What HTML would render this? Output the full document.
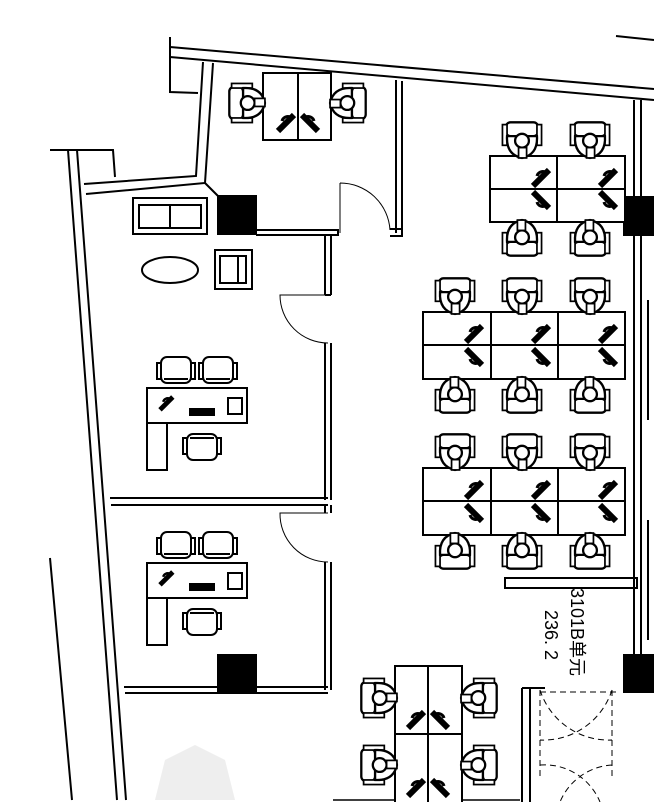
<!DOCTYPE html>
<html><head><meta charset="utf-8"><style>html,body{margin:0;padding:0;background:#fff}svg{display:block}</style></head>
<body>
<svg width="654" height="802" viewBox="0 0 654 802" xmlns="http://www.w3.org/2000/svg" fill="none" stroke="#000" stroke-width="2">
<defs>
<g id="w"><g transform="scale(1.15)">
<rect x="-14" y="-18" width="28" height="12" rx="4" fill="#fff"/>
<rect x="-17" y="-16" width="4" height="18" fill="#fff" stroke-width="1.5"/>
<rect x="13" y="-16" width="4" height="18" fill="#fff" stroke-width="1.5"/>
<path d="M-13,-6 Q-14,10 0,13 Q14,10 13,-6 Z" fill="#fff"/>
<circle cx="0" cy="-2" r="6" fill="#fff"/>
<rect x="-3" y="4" width="7" height="9" fill="#fff" stroke-width="1.5"/>
</g></g>
<g id="m"><path d="M-10,6 L6,-10" stroke-width="6"/><path d="M-6,-4 a6,6 0 0 1 8,-4" stroke-width="3"/></g>
<g id="c">
<rect x="-15" y="-12" width="30" height="26" rx="6" fill="#fff"/>
<rect x="-19" y="-6" width="4" height="16" fill="#fff"/>
<rect x="15" y="-6" width="4" height="16" fill="#fff"/>
<path d="M-12,10 H12"/>
</g>
</defs>

<path d="M170,37 V60 M170,47 L654,89 M170,57 L654,100 M616,36 L654,40"/>
<path d="M170,57 V92 L198,93"/>
<path d="M203,62 L196,176 L84,184 M213,63 L205,183 L86,194"/>
<path d="M50,150 H113 L115,177 M68,150 L117,800 M77,150 L126,800 M50,558 L72,800"/>
<path d="M205,183 L218,196"/>
<rect x="218" y="196" width="38" height="38" fill="#000"/>
<rect x="624" y="197" width="30" height="38" fill="#000"/>
<rect x="218" y="655" width="38" height="37" fill="#000"/>
<rect x="624" y="655" width="30" height="37" fill="#000"/>
<path d="M256,230 H338 M256,235 H338 M338,229 V236"/>
<path d="M396,80 V233 M402,81 V233 M390,229 H402 V236 H390"/>
<path d="M340,183 V233 M340,183 A50,50 0 0 1 390,230" stroke-width="1"/>
<path d="M325,235 V295 M331,235 V295 M325,295 H331 M325,343 V500 M331,343 V500 M325,562 V690 M331,562 V690"/>
<path d="M328,295 H280 A48,48 0 0 0 328,343" stroke-width="1"/>
<path d="M328,513 H280 A48,48 0 0 0 328,562" stroke-width="1"/>
<path d="M110,498 H328 M111,505 H328 M325,505 V513 M331,505 V513"/>
<path d="M124,687 H328 M125,693 H328"/>
<path d="M634,100 V690 M641,100 V690 M648,300 V420 M648,520 V640"/>
<rect x="505" y="578" width="132" height="10"/>
<path d="M522,688 V802 M530,688 V802 M522,688 H545"/>
<path d="M540,690 V780 M612,690 V780 M540,692 H620 M540,690 A72,72 0 0 0 612,740 M612,690 A72,72 0 0 1 540,740 M540,765 A60,60 0 0 1 600,802 M612,765 A60,60 0 0 0 560,802" stroke-width="1" stroke-dasharray="6,4"/>
<path d="M333,800 H520" stroke-width="1.5"/>

<text transform="translate(571,588) rotate(90)" font-family="Liberation Sans, 'Noto Sans CJK SC', sans-serif" font-size="18" fill="#000" stroke="none">3101B单元</text>
<text transform="translate(545,610) rotate(90)" font-family="Liberation Sans, 'Noto Sans CJK SC', sans-serif" font-size="18" fill="#000" stroke="none">236. 2</text>

<rect x="263" y="73" width="68" height="67" fill="#fff"/>
<path d="M298,73 V140"/>
<use href="#m" transform="translate(288,125)"/>
<use href="#m" transform="translate(308,125) scale(-1,1)"/>
<use href="#w" transform="translate(250,103) rotate(-90)"/>
<use href="#w" transform="translate(345,103) rotate(90)"/>

<rect x="490" y="156" width="135" height="66" fill="#fff"/>
<path d="M490,189 H625 M557,156 V222"/>
<use href="#m" transform="translate(543,180)"/>
<use href="#m" transform="translate(610,180)"/>
<use href="#m" transform="translate(543,198) scale(1,-1)"/>
<use href="#m" transform="translate(610,198) scale(1,-1)"/>
<use href="#w" transform="translate(522,143)"/>
<use href="#w" transform="translate(590,143)"/>
<use href="#w" transform="translate(522,235) rotate(180)"/>
<use href="#w" transform="translate(590,235) rotate(180)"/>

<g>
<rect x="423" y="312" width="202" height="67" fill="#fff"/>
<path d="M423,345 H625 M491,312 V379 M558,312 V379"/>
<use href="#m" transform="translate(476,336)"/><use href="#m" transform="translate(543,336)"/><use href="#m" transform="translate(610,336)"/>
<use href="#m" transform="translate(476,355) scale(1,-1)"/><use href="#m" transform="translate(543,355) scale(1,-1)"/><use href="#m" transform="translate(610,355) scale(1,-1)"/>
<use href="#w" transform="translate(455,299)"/><use href="#w" transform="translate(522,299)"/><use href="#w" transform="translate(590,299)"/>
<use href="#w" transform="translate(455,392) rotate(180)"/><use href="#w" transform="translate(522,392) rotate(180)"/><use href="#w" transform="translate(590,392) rotate(180)"/>
</g>
<g transform="translate(0,156)">
<rect x="423" y="312" width="202" height="67" fill="#fff"/>
<path d="M423,345 H625 M491,312 V379 M558,312 V379"/>
<use href="#m" transform="translate(476,336)"/><use href="#m" transform="translate(543,336)"/><use href="#m" transform="translate(610,336)"/>
<use href="#m" transform="translate(476,355) scale(1,-1)"/><use href="#m" transform="translate(543,355) scale(1,-1)"/><use href="#m" transform="translate(610,355) scale(1,-1)"/>
<use href="#w" transform="translate(455,299)"/><use href="#w" transform="translate(522,299)"/><use href="#w" transform="translate(590,299)"/>
<use href="#w" transform="translate(455,392) rotate(180)"/><use href="#w" transform="translate(522,392) rotate(180)"/><use href="#w" transform="translate(590,392) rotate(180)"/>
</g>

<rect x="395" y="666" width="67" height="140" fill="#fff"/>
<path d="M428,666 V802 M395,734 H462"/>
<use href="#m" transform="translate(418,722)"/><use href="#m" transform="translate(438,722) scale(-1,1)"/>
<use href="#m" transform="translate(418,790)"/><use href="#m" transform="translate(438,790) scale(-1,1)"/>
<use href="#w" transform="translate(382,698) rotate(-90)"/>
<use href="#w" transform="translate(382,765) rotate(-90)"/>
<use href="#w" transform="translate(476,698) rotate(90)"/>
<use href="#w" transform="translate(476,765) rotate(90)"/>

<rect x="133" y="198" width="74" height="36"/>
<path d="M139,205 H201 V228 H139 Z M170,205 V228"/>
<ellipse cx="170" cy="270" rx="28" ry="13"/>
<rect x="215" y="250" width="37" height="39"/>
<path d="M220,256 H246 V283 H220 Z M238,256 V283"/>

<g>
<rect x="147" y="388" width="100" height="35" fill="#fff"/>
<path d="M147,423 V470 H167 V423"/>
<rect x="190" y="409" width="24" height="6" fill="#000"/>
<use href="#m" transform="translate(168,405) scale(0.8)"/>
<rect x="228" y="398" width="14" height="16"/>
<use href="#c" transform="translate(176,369)"/>
<use href="#c" transform="translate(218,369)"/>
<use href="#c" transform="translate(202,448) rotate(180)"/>
</g>
<g transform="translate(0,175)">
<rect x="147" y="388" width="100" height="35" fill="#fff"/>
<path d="M147,423 V470 H167 V423"/>
<rect x="190" y="409" width="24" height="6" fill="#000"/>
<use href="#m" transform="translate(168,405) scale(0.8)"/>
<rect x="228" y="398" width="14" height="16"/>
<use href="#c" transform="translate(176,369)"/>
<use href="#c" transform="translate(218,369)"/>
<use href="#c" transform="translate(202,448) rotate(180)"/>
</g>
<polygon points="165,760 195,745 225,760 235,800 155,800" fill="#eeeeee" stroke="none"/>
</svg>
</body></html>
